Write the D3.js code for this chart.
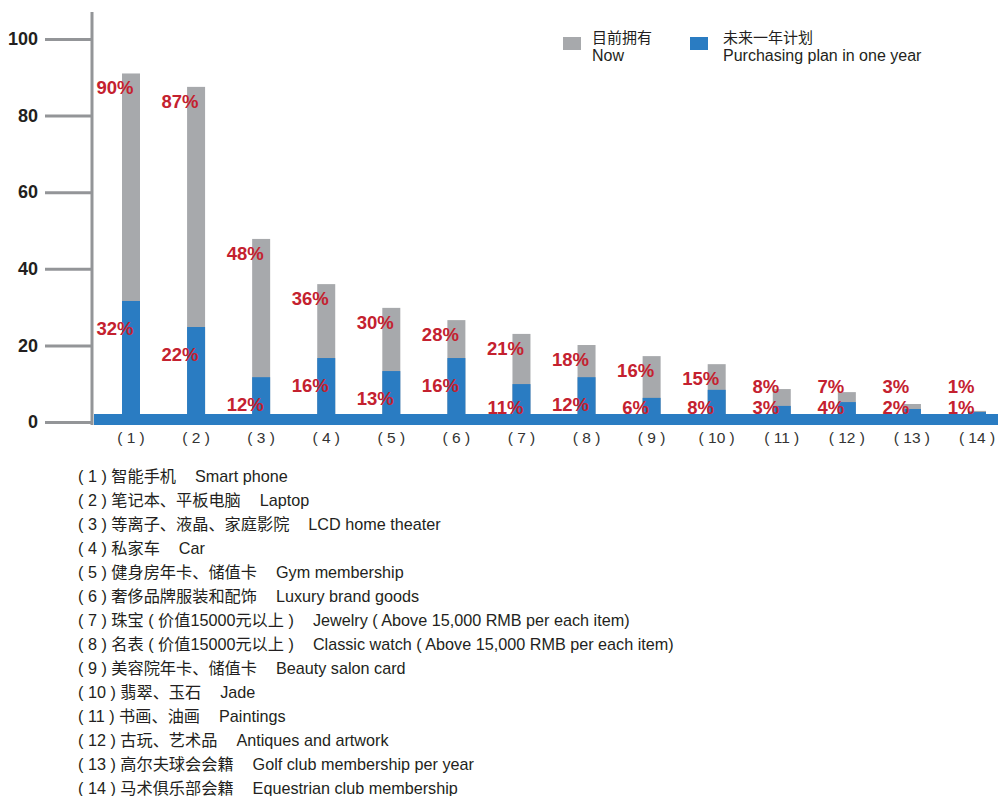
<!DOCTYPE html>
<html>
<head>
<meta charset="utf-8">
<script src="https://cdn.jsdelivr.net/npm/d3@7"></script>
<style>
  body { margin: 0; background: #fff; }
  svg { display: block; font-family: "Liberation Sans", Arial, "Noto Sans CJK SC", sans-serif; }
</style>
</head>
<body>
<div id="chart"></div>
<script>
// Data
const categories = ["1", "2", "3", "4", "5", "6", "7", "8", "9", "10", "11", "12", "13", "14"];
const nowValues = [91, 87.5, 47.8, 36, 29.8, 26.6, 23, 20.1, 17.2, 15.1, 8.6, 7.8, 4.7, 2.9];
const planValues = [31.6, 24.8, 11.7, 16.7, 13.3, 16.7, 9.9, 11.7, 6.3, 8.4, 4.2, 5.2, 3.4, 2.6];
const nowLabels = ["90%", "87%", "48%", "36%", "30%", "28%", "21%", "18%", "16%", "15%", "8%", "7%", "3%", "1%"];
const planLabels = ["32%", "22%", "12%", "16%", "13%", "16%", "11%", "12%", "6%", "8%", "3%", "4%", "2%", "1%"];
const yTicks = [0, 20, 40, 60, 80, 100];
const seriesZh = ["目前拥有", "未来一年计划"];
const seriesEn = ["Now", "Purchasing plan in one year"];
const itemsZh = [
    "智能手机", "笔记本、平板电脑", "等离子、液晶、家庭影院", "私家车", "健身房年卡、储值卡",
    "奢侈品牌服装和配饰", "珠宝 ( 价值15000元以上 )", "名表 ( 价值15000元以上 )", "美容院年卡、储值卡",
    "翡翠、玉石", "书画、油画", "古玩、艺术品", "高尔夫球会会籍", "马术俱乐部会籍"
];
const itemsEn = [
    "Smart phone", "Laptop", "LCD home theater", "Car", "Gym membership", "Luxury brand goods",
    "Jewelry ( Above 15,000 RMB per each item)", "Classic watch ( Above 15,000 RMB per each item)",
    "Beauty salon card", "Jade", "Paintings", "Antiques and artwork", "Golf club membership per year",
    "Equestrian club membership"
];

const config = {
    width: 998,
    height: 796,
    gray: "#a7a9ac",
    blue: "#2a7cc2",
    axis: "#939598",
    red: "#c4212f",
    ink: "#231f20",
    barWidth: 18
};

const svg = d3.select("#chart")
    .append("svg")
    .attr("width", config.width)
    .attr("height", config.height);

const x = d3.scalePoint().domain(categories).range([131, 977]);
const y = d3.scaleLinear().domain([0, 100]).range([422, 39]);

// Axis with long grey ticks
const axisG = svg.append("g")
    .attr("transform", "translate(92,0)")
    .call(d3.axisLeft(y).tickValues(yTicks).tickSize(47).tickPadding(7));
axisG.select(".domain").remove();
axisG.selectAll(".tick line").attr("stroke", config.axis).attr("stroke-width", 3);
axisG.selectAll(".tick text")
    .attr("fill", config.ink)
    .style("font-size", "18px")
    .style("font-weight", "bold");
svg.append("line")
    .attr("x1", 92).attr("x2", 92)
    .attr("y1", 12).attr("y2", 425)
    .attr("stroke", config.axis).attr("stroke-width", 3);

// Bars
const rows = categories.map((c, i) => ({
    cat: c, now: nowValues[i], plan: planValues[i], nowLabel: nowLabels[i], planLabel: planLabels[i]
}));

svg.selectAll(".bar-now")
    .data(rows)
    .enter()
    .append("rect")
    .attr("class", "bar-now")
    .attr("x", d => x(d.cat) - config.barWidth / 2)
    .attr("y", d => y(d.now))
    .attr("width", config.barWidth)
    .attr("height", d => y(0) - y(d.now))
    .attr("fill", config.gray);

svg.selectAll(".bar-plan")
    .data(rows)
    .enter()
    .append("rect")
    .attr("class", "bar-plan")
    .attr("x", d => x(d.cat) - config.barWidth / 2)
    .attr("y", d => y(d.plan))
    .attr("width", config.barWidth)
    .attr("height", d => y(0) - y(d.plan))
    .attr("fill", config.blue);

// blue base band
svg.append("rect")
    .attr("x", 94).attr("y", 414)
    .attr("width", config.width - 94).attr("height", 11)
    .attr("fill", config.blue);

// Percent labels
const planY = d => Math.min(y(d.plan) + 27, 407);
const nowY = d => Math.min(y(d.now) + 14, planY(d) - 21);

svg.selectAll(".lbl-now")
    .data(rows)
    .enter()
    .append("text")
    .attr("class", "lbl-now")
    .attr("x", d => x(d.cat) - 16)
    .attr("y", nowY)
    .attr("dy", "0.36em")
    .attr("text-anchor", "middle")
    .attr("fill", config.red)
    .style("font-size", "18.5px")
    .style("font-weight", "bold")
    .text(d => d.nowLabel);

svg.selectAll(".lbl-plan")
    .data(rows)
    .enter()
    .append("text")
    .attr("class", "lbl-plan")
    .attr("x", d => x(d.cat) - 16)
    .attr("y", planY)
    .attr("dy", "0.36em")
    .attr("text-anchor", "middle")
    .attr("fill", config.red)
    .style("font-size", "18.5px")
    .style("font-weight", "bold")
    .text(d => d.planLabel);

// Category numbers under the band
svg.selectAll(".cat-label")
    .data(categories)
    .enter()
    .append("text")
    .attr("class", "cat-label")
    .attr("x", d => x(d))
    .attr("y", 443)
    .attr("text-anchor", "middle")
    .attr("fill", "#333")
    .style("font-size", "15.5px")
    .text(d => `( ${d} )`);

// Legend
const legend = svg.append("g").attr("class", "legend");
[config.gray, config.blue].forEach((col, i) => {
    const lx = 563 + i * 127;
    legend.append("rect")
        .attr("x", lx).attr("y", 37)
        .attr("width", 18).attr("height", 13)
        .attr("fill", col);
    legend.append("text")
        .attr("x", lx + 29 + i * 4).attr("y", 43)
        .attr("fill", config.ink)
        .style("font-size", "15px")
        .text(seriesZh[i]);
    legend.append("text")
        .attr("x", lx + 29 + i * 4).attr("y", 61)
        .attr("fill", config.ink)
        .style("font-size", "16px")
        .text(seriesEn[i]);
});

// Item list below
const list = svg.append("g").attr("class", "item-list");
categories.forEach((c, i) => {
    const t = list.append("text")
        .attr("x", 78)
        .attr("y", 482 + i * 24)
        .attr("fill", config.ink)
        .style("font-size", "16.2px");
    t.append("tspan").text(`( ${c} ) ${itemsZh[i]}`);
    t.append("tspan").attr("dx", 19).text(itemsEn[i]);
});
</script>
</body>
</html>
